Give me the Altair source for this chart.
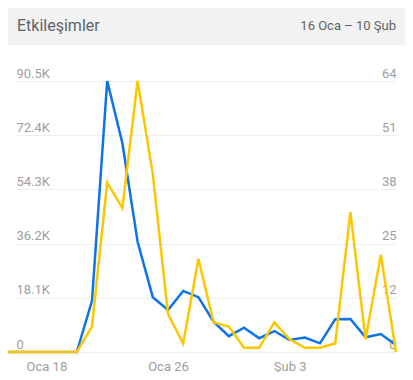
import altair as alt
import pandas as pd

# ---- data ----
dates = [
    "2021-01-15", "2021-01-16", "2021-01-17", "2021-01-18", "2021-01-19",
    "2021-01-20", "2021-01-21", "2021-01-22", "2021-01-23", "2021-01-24",
    "2021-01-25", "2021-01-26", "2021-01-27", "2021-01-28", "2021-01-29",
    "2021-01-30", "2021-01-31", "2021-02-01", "2021-02-02", "2021-02-03",
    "2021-02-04", "2021-02-05", "2021-02-06", "2021-02-07", "2021-02-08",
    "2021-02-09", "2021-02-10",
]
interactions = [
    0, 0, 0, 0, 0, 0, 17100, 90500, 69700, 36800, 18300, 14000, 20400, 18300,
    10100, 5300, 8100, 4600, 7000, 4000, 4800, 2900, 10900, 11000, 4900, 6000, 2300,
]
counts = [
    0, 0, 0, 0, 0, 0, 6, 40, 34, 64, 42, 9, 2, 22,
    7, 6, 1, 1, 7, 3, 1, 1, 2, 33, 3, 23, 0,
]
left_ticks = [0, 18100, 36200, 54300, 72400, 90500]
right_ticks = [0, 12.8, 25.6, 38.4, 51.2, 64]
x_tick_dates = [(2021, 1, 18), (2021, 1, 26), (2021, 2, 3)]
x_domain = [(2021, 1, 16), (2021, 2, 10)]
month_names = ["Oca", "Şub"]
title_text = "Etkileşimler"
range_text = "16 Oca \u2013 10 Şub"

BLUE = "#0f72e5"
YELLOW = "#fcc700"
LABEL = "#9e9e9e"
HEAD = "#5f6368"
FONT = "Roboto"

df = pd.DataFrame({
    "date": [d + "T00:00:00" for d in dates],
    "a": interactions,
    "b": counts,
})

def dt(t):
    return alt.DateTime(year=t[0], month=t[1], date=t[2])

months_js = "[" + ",".join("'" + m + "'" for m in month_names) + "]"

x_enc = alt.X(
    "date:T",
    scale=alt.Scale(domain=[dt(t) for t in x_domain], nice=False),
    axis=alt.Axis(
        values=[dt(t) for t in x_tick_dates],
        labelExpr=months_js + "[month(datum.value)] + ' ' + date(datum.value)",
        domain=False, ticks=False, tickSize=0, grid=False,
        labelColor=LABEL, labelFont=FONT, labelFontSize=13,
        labelBaseline="alphabetic", labelPadding=18,
        labelFlush=False, labelOverlap=False, title=None,
    ),
)

blue = alt.Chart(df).mark_line(color=BLUE, strokeWidth=2.5, clip=False).encode(
    x=x_enc,
    y=alt.Y(
        "a:Q",
        scale=alt.Scale(domain=[0, 90500], nice=False),
        axis=alt.Axis(
            orient="left", values=left_ticks,
            labelExpr="datum.value == 0 ? '0' : format(datum.value / 1000, '.1f') + 'K'",
            domain=False, ticks=False, tickSize=0,
            labelAlign="left", labelBaseline="alphabetic", labelPadding=0,
            labelOffset=-4, grid=True, gridColor="#eeeeee", gridWidth=1,
            labelColor=LABEL, labelFont=FONT, labelFontSize=13,
            labelOverlap=False, labelFlush=False, title=None,
        ),
    ),
)

yellow = alt.Chart(df).mark_line(color=YELLOW, strokeWidth=2.5, clip=False).encode(
    x=x_enc,
    y=alt.Y(
        "b:Q",
        scale=alt.Scale(domain=[0, 64], nice=False),
        axis=alt.Axis(
            orient="right", values=right_ticks,
            labelExpr="floor(datum.value)",
            domain=False, ticks=False, tickSize=0,
            labelAlign="right", labelBaseline="alphabetic", labelPadding=0,
            labelOffset=-4, grid=False,
            labelColor=LABEL, labelFont=FONT, labelFontSize=13,
            labelOverlap=False, labelFlush=False, title=None,
        ),
    ),
)

head_data = alt.Data(values=[{"t": title_text, "r": range_text}])

header = alt.Chart(head_data).mark_rect(color="#f2f2f2").encode(
    x=alt.value(-8), x2=alt.value(389), y=alt.value(-73), y2=alt.value(-36)
)
title = alt.Chart(head_data).mark_text(
    align="left", baseline="alphabetic", font=FONT, fontSize=16, color=HEAD
).encode(x=alt.value(1), y=alt.value(-50), text="t:N")
rng = alt.Chart(head_data).mark_text(
    align="right", baseline="alphabetic", font=FONT, fontSize=13, color=HEAD
).encode(x=alt.value(380), y=alt.value(-51), text="r:N")

chart = alt.layer(header, title, rng, blue, yellow).resolve_scale(
    y="independent"
).properties(
    width=380,
    height=271,
    autosize=alt.AutoSizeParams(type="none"),
    padding={"left": 8, "top": 73, "right": 9, "bottom": 20},
).configure_view(stroke=None)

chart.save("out.html", embed_options={"renderer": "svg", "actions": False})
